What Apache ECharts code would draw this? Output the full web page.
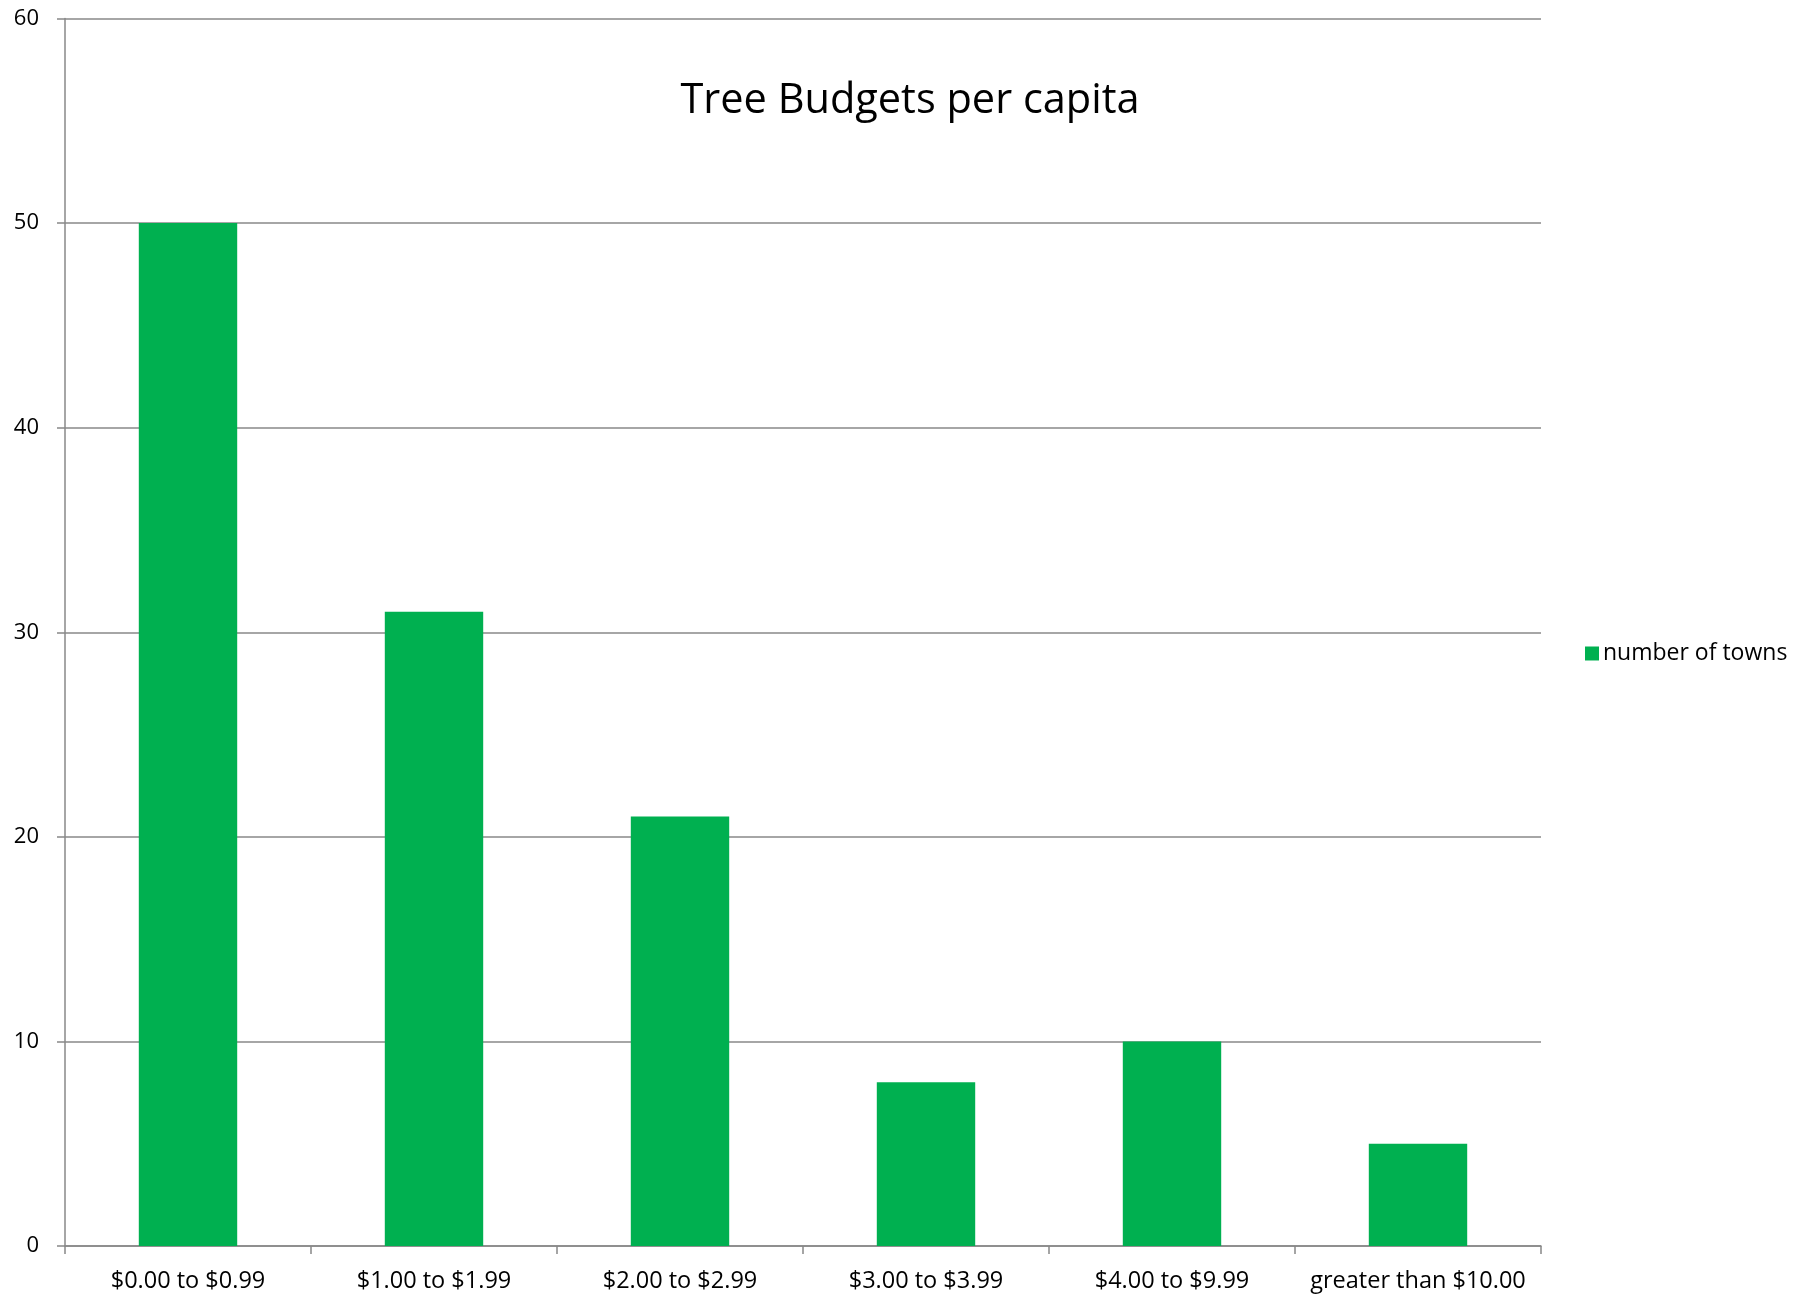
<!DOCTYPE html>
<html><head><meta charset="utf-8">
<script src="https://cdn.jsdelivr.net/npm/echarts@6/dist/echarts.min.js"></script>
<style>html,body{margin:0;padding:0;background:#fff}#c{width:1818px;height:1298px}</style>
</head><body><div id="c"></div>
<script>
const categories = ["$0.00 to $0.99", "$1.00 to $1.99", "$2.00 to $2.99", "$3.00 to $3.99", "$4.00 to $9.99", "greater than $10.00"];
const towns = [50, 31, 21, 8, 10, 5];
const seriesName = "number of towns";
const titleText = "Tree Budgets per capita";

const font = "'Open Sans', 'Noto Sans', sans-serif";
const chart = echarts.init(document.getElementById('c'), null, {renderer: 'canvas'});
chart.setOption({
  animation: false,
  backgroundColor: '#fff',
  title: {
    text: titleText, left: 905, top: 75, textAlign: 'center',
    textStyle: {fontFamily: font, fontSize: 41.5, fontWeight: 'normal', color: '#000'}
  },
  legend: {
    orient: 'vertical', left: 1580, top: 637, itemWidth: 14, itemHeight: 14, itemGap: 6,
    icon: 'rect',
    textStyle: {fontFamily: font, fontSize: 23, color: '#000', padding: [0,0,0,-1]},
    data: [seriesName]
  },
  grid: {left: 65, right: 277, top: 18.5, bottom: 52, containLabel: false},
  xAxis: {
    type: 'category', data: categories,
    axisLine: {lineStyle: {color: '#888', width: 1.5}},
    axisTick: {show: true, length: 8, alignWithLabel: false, lineStyle: {color: '#888', width: 1.5}},
    axisLabel: {fontFamily: font, fontSize: 23.5, color: '#000', margin: 23, interval: 0}
  },
  yAxis: {
    type: 'value', min: 0, max: 60, interval: 10,
    axisLine: {show: true, lineStyle: {color: '#888', width: 1.5}},
    axisTick: {show: true, length: 8, lineStyle: {color: '#888', width: 1.5}},
    splitLine: {show: true, lineStyle: {color: '#888', width: 1.5}},
    axisLabel: {fontFamily: font, fontSize: 22, color: '#000', margin: 26}
  },
  series: [{
    name: seriesName, type: 'bar', data: towns, barCategoryGap: '60%',
    itemStyle: {color: '#00B050'}
  }]
});
</script></body></html>
